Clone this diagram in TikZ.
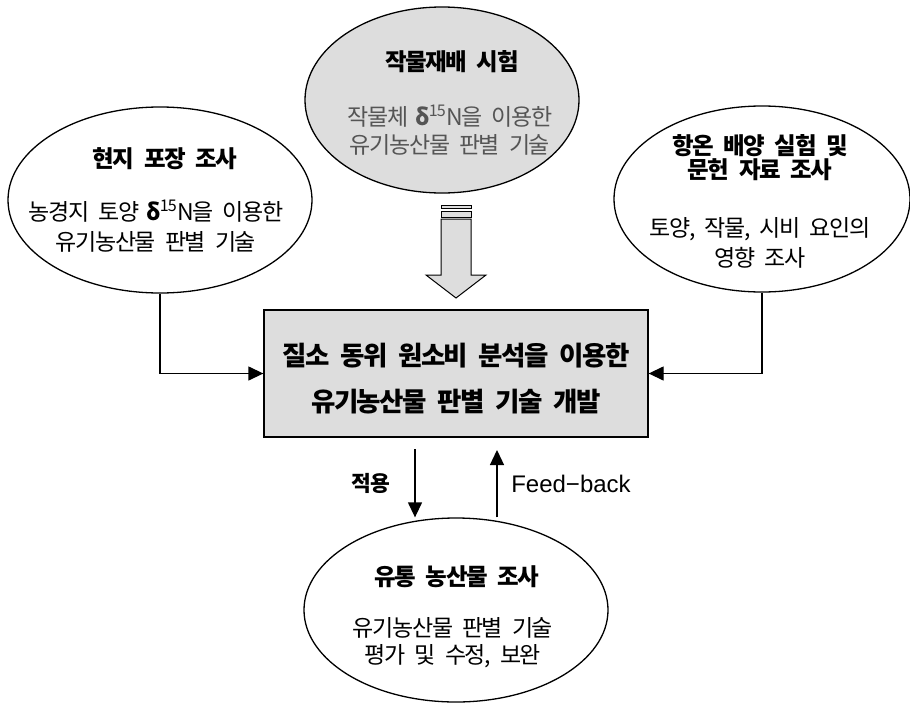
\documentclass[tikz,border=0pt]{standalone}
\usepackage{fontspec}
\setmainfont{Noto Sans CJK KR}[LetterSpace=-6, WordSpace=2.4]
\newfontfamily\latinfont{Liberation Sans}
\usetikzlibrary{shapes.geometric,arrows.meta}
\definecolor{boxgray}{HTML}{DDDDDD}
\definecolor{subgray}{HTML}{555555}
\newcommand{\dN}{\textbf{δ}\textsuperscript{15}N}

\begin{document}
\begin{tikzpicture}[x=1pt, y=-1pt, line width=1.3pt, >={Triangle[length=15pt,width=14pt]},
  oval/.style={draw, ellipse, inner sep=0pt},
  ttl/.style={font=\fontsize{23.5}{24}\selectfont\bfseries, align=center},
  body/.style={font=\fontsize{23}{30}\selectfont, align=center}]
  \useasboundingbox (0,0) rectangle (910,704);

  % the four surveys
  \node[oval, fill=boxgray, minimum width=274pt, minimum height=186pt] (crop) at (442,100) {};
  \node[oval, minimum width=304pt, minimum height=186pt] (field) at (160,200) {};
  \node[oval, minimum width=296pt, minimum height=186pt] (lab) at (762,199) {};
  \node[oval, minimum width=304pt, minimum height=184pt] (market) at (456,610) {};

  \node[ttl] (crop-t) at (452,62) {작물재배 시험};
  \node[body, text=subgray, font=\fontsize{23}{28}\selectfont] (crop-b) at (450,130) {작물체 \dN{}을 이용한\\유기농산물 판별 기술};
  \node[ttl] (field-t) at (165,159) {현지 포장 조사};
  \node[body] (field-b) at (156,226) {농경지 토양 \dN{}을 이용한\\유기농산물 판별 기술};
  \node[ttl] (lab-t) at (760,158) {항온 배양 실험 및\\문헌 자료 조사};
  \node[body] (lab-b) at (760,243) {토양, 작물, 시비 요인의\\영향 조사};
  \node[ttl] (market-t) at (457,577) {유통 농산물 조사};
  \node[body, font=\fontsize{23}{27}\selectfont] (market-b) at (453,643) {유기농산물 판별 기술\\평가 및 수정, 보완};

  % main task
  \node[draw, rectangle, fill=boxgray, minimum width=384pt, minimum height=127pt] (devel) at (456,373.5) {};
  \node[font=\fontsize{26.5}{46}\selectfont\bfseries, align=center] (devel-t) at (456,379) {질소 동위 원소비 분석을 이용한\\유기농산물 판별 기술 개발};

  % block arrow from the crop test
  \draw[fill=boxgray, line width=1pt] (441,205) rectangle (471,208);
  \draw[fill=boxgray, line width=1pt] (441,211) rectangle (471,217);
  \draw[fill=boxgray, line width=1pt] (441,219) -- (471,219) -- (471,275) -- (486,275) -- (456,298)
    -- (426,275) -- (441,275) -- cycle;

  \draw[->] (field.south) |- (devel.west);
  \draw[->] (lab.south) |- (devel.east);

  \coordinate (apply) at (415,449);
  \coordinate (fback) at (497,450);
  \draw[->] (apply) -- (apply |- market.north);
  \draw[->] (fback |- market.north) -- (fback);
  \node[font=\fontsize{21.5}{22}\selectfont\bfseries] (apply-l) at (371,483) {적용};
  \node[font=\fontsize{24}{24}\selectfont\latinfont] (fback-l) at (571,484) {Feed−back};
\end{tikzpicture}
\end{document}
